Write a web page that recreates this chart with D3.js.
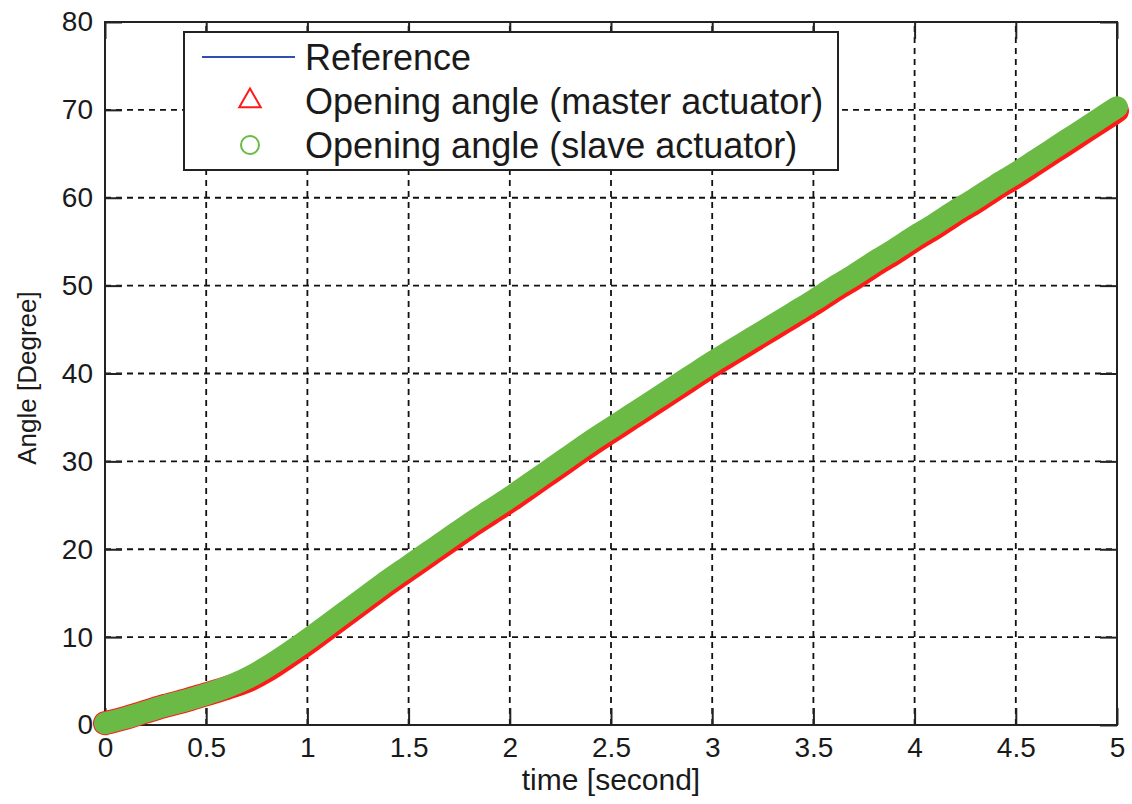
<!DOCTYPE html>
<html><head><meta charset="utf-8">
<script src="https://cdn.jsdelivr.net/npm/d3@7"></script>
<style>
html,body{margin:0;padding:0;background:#fff;}
text{font-family:"Liberation Sans",Arial,sans-serif;fill:#1a1a1a;}
</style></head>
<body><svg id="chart" width="1132" height="804"></svg>
<script>
const time = [0,0.1,0.2,0.3,0.4,0.5,0.6,0.7,0.8,0.9,1.0,1.1,1.2,1.3,1.4,1.5,1.6,1.7,1.8,1.9,2.0,2.1,2.2,2.3,2.4,2.5,2.6,2.7,2.8,2.9,3.0,3.1,3.2,3.3,3.4,3.5,3.6,3.7,3.8,3.9,4.0,4.1,4.2,4.3,4.4,4.5,4.6,4.7,4.8,4.9,5.0];
const reference = [0.2,0.8,1.5,2.2,2.8,3.5,4.2,5.1,6.3,7.8,9.4,11.1,12.8,14.5,16.2,17.8,19.4,21.0,22.6,24.1,25.6,27.2,28.8,30.4,32.0,33.5,35.0,36.5,38.0,39.5,41.0,42.4,43.8,45.2,46.6,48.0,49.5,50.9,52.4,53.8,55.3,56.7,58.2,59.6,61.1,62.5,64.0,65.5,67.0,68.5,70.0];
const master = [0.2,0.8,1.5,2.2,2.8,3.5,4.2,5.0,6.2,7.7,9.3,11.0,12.7,14.4,16.1,17.7,19.3,20.9,22.5,24.0,25.5,27.1,28.7,30.3,31.9,33.4,34.9,36.4,37.9,39.4,40.9,42.3,43.7,45.1,46.5,47.9,49.4,50.8,52.3,53.7,55.2,56.6,58.1,59.5,61.0,62.4,63.9,65.4,66.9,68.4,69.9];
const slave = [0.2,0.8,1.5,2.2,2.8,3.5,4.3,5.3,6.6,8.1,9.7,11.4,13.1,14.8,16.5,18.1,19.7,21.3,22.9,24.4,25.9,27.5,29.1,30.7,32.3,33.8,35.3,36.8,38.3,39.8,41.3,42.7,44.1,45.5,46.9,48.3,49.8,51.2,52.7,54.1,55.6,57.0,58.5,59.9,61.4,62.8,64.3,65.8,67.3,68.8,70.3];
const xTicks = [0,0.5,1,1.5,2,2.5,3,3.5,4,4.5,5];
const yTicks = [0,10,20,30,40,50,60,70,80];
const legendLabels = ["Reference","Opening angle (master actuator)","Opening angle (slave actuator)"];
const xTitle = "time [second]";
const yTitle = "Angle [Degree]";

const svg = d3.select("#chart");
const L = 105, R = 1117, T = 22, B = 725;
const x = d3.scaleLinear().domain([0,5]).range([L,R]);
const y = d3.scaleLinear().domain([0,80]).range([B,T]);

// grid
const grid = svg.append("g").attr("stroke","#111").attr("stroke-width",1.8).attr("stroke-dasharray","6,5");
grid.selectAll("line.gx").data(xTicks.slice(1,-1)).enter().append("line")
  .attr("x1",d=>x(d)).attr("x2",d=>x(d)).attr("y1",B).attr("y2",T);
grid.selectAll("line.gy").data(yTicks.slice(1,-1)).enter().append("line")
  .attr("y1",d=>y(d)).attr("y2",d=>y(d)).attr("x1",L).attr("x2",R);

// axes
const fmt = d=>String(d);
function styleAxis(g){
  g.select(".domain").remove();
  g.selectAll(".tick line").attr("stroke","#222").attr("stroke-width",2);
  g.selectAll(".tick text").attr("font-size",28).attr("fill","#1a1a1a")
    .style("font-family","'Liberation Sans',Arial,sans-serif");
}
svg.append("g").attr("transform",`translate(0,${B})`)
  .call(d3.axisBottom(x).tickValues(xTicks).tickFormat(fmt).tickSize(-17).tickPadding(12)).call(styleAxis);
svg.append("g").attr("transform",`translate(0,${T})`)
  .call(d3.axisTop(x).tickValues(xTicks).tickFormat("").tickSize(-17)).call(styleAxis);
svg.append("g").attr("transform",`translate(${L},0)`)
  .call(d3.axisLeft(y).tickValues(yTicks).tickFormat(fmt).tickSize(-17).tickPadding(12)).call(styleAxis);
svg.append("g").attr("transform",`translate(${R},0)`)
  .call(d3.axisRight(y).tickValues(yTicks).tickFormat("").tickSize(-17)).call(styleAxis);

// frame
svg.append("rect").attr("x",L).attr("y",T).attr("width",R-L).attr("height",B-T)
  .attr("fill","none").attr("stroke","#222").attr("stroke-width",2);

// data
const line = d3.line().curve(d3.curveMonotoneX);
const pts = arr => time.map((t,i)=>[x(t),y(arr[i])]);
svg.append("path").attr("d",line(pts(reference))).attr("fill","none").attr("stroke","#3050b0").attr("stroke-width",1.5);
svg.append("path").attr("d",line(pts(master))).attr("fill","none").attr("stroke","#ff1a1a")
  .attr("stroke-width",24).attr("stroke-linecap","round").attr("stroke-linejoin","round");
svg.append("path").attr("d",line(pts(slave))).attr("fill","none").attr("stroke","#6aba45")
  .attr("stroke-width",22).attr("stroke-linecap","round").attr("stroke-linejoin","round");

// titles
svg.append("text").attr("x",(L+R)/2).attr("y",790).attr("text-anchor","middle").attr("font-size",30).text(xTitle);
svg.append("text").attr("transform",`translate(36,378) rotate(-90)`).attr("text-anchor","middle").attr("font-size",26).text(yTitle);

// legend
const lg = svg.append("g");
lg.append("rect").attr("x",184).attr("y",32).attr("width",654).attr("height",138)
  .attr("fill","#fff").attr("stroke","#222").attr("stroke-width",2);
const rows = [57,101,145];
lg.append("line").attr("x1",202).attr("x2",295).attr("y1",rows[0]).attr("y2",rows[0]).attr("stroke","#3050b0").attr("stroke-width",2);
lg.append("path").attr("d",d3.symbol(d3.symbolTriangle,200)()).attr("transform",`translate(250,${rows[1]})`)
  .attr("fill","none").attr("stroke","#ff1a1a").attr("stroke-width",2);
lg.append("circle").attr("cx",250).attr("cy",rows[2]).attr("r",9).attr("fill","none").attr("stroke","#6aba45").attr("stroke-width",2);
lg.selectAll("text.l").data(legendLabels).enter().append("text")
  .attr("x",305).attr("y",(d,i)=>rows[i]).attr("dy","0.36em").attr("font-size",36).text(d=>d);
</script></body></html>
